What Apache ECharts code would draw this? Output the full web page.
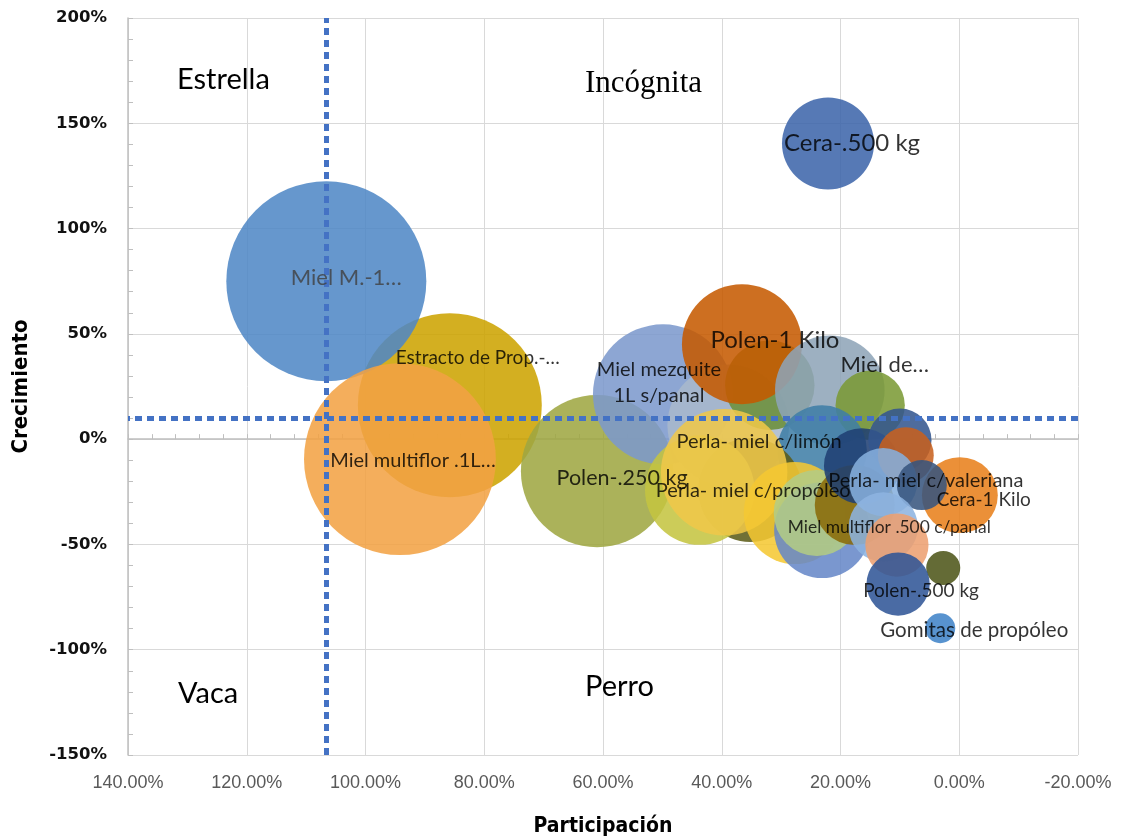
<!DOCTYPE html>
<html><head><meta charset="utf-8">
<script src="https://cdn.jsdelivr.net/npm/echarts@6/dist/echarts.min.js"></script>
<style>html,body{margin:0;padding:0;background:#fff}#c{width:1125px;height:839px}</style>
</head><body><div id="c"></div>
<script>
// ---- data (drawing order: first = bottom) ----
const etiquetas = ['Estracto de Prop.-…','Miel M.-1…','Miel multiflor .1L…','Polen-.250 kg','Miel mezquite\n1L s/panal','','','Polen-1 Kilo','Miel de…','','','Perla- miel c/propóleo','','Perla- miel c/limón','','','','','','','','Cera-1 Kilo','','Perla- miel c/valeriana','Miel multiflor .500 c/panal','','','Polen-.500 kg','Gomitas de propóleo','Cera-.500 kg'];
const participacion = [85.8,106.6,94.2,61.0,49.9,38.9,31.9,36.6,21.8,15.0,23.1,35.2,43.7,39.6,27.7,23.1,24.0,17.6,16.4,10.0,9.0,-0.1,12.8,6.3,12.8,10.5,2.7,10.3,3.2,22.1];
const crecimiento   = [16.1,75.0,-9.5,-15.2,21.3,6.6,25.6,45.1,23.2,16.1,-5.2,-24.2,-24.2,-15.7,-35.1,-43.2,-35.1,-31.3,-12.8,-0.5,-7.6,-26.6,-20.4,-21.8,-41.7,-50.3,-61.2,-68.8,-89.8,140.4];
const ventas        = [84.6,100,92,58,49,37,20,36,30,12,20,27,30,40,26,23,18.5,16,14.4,10,7.8,14.4,11.6,6.25,12,10,2.9,10,2.25,21.2];
const promedioParticipacion = 106.6;
const promedioCrecimiento = 10;
const xTickMin = -20, xTickMax = 140, xTickStep = 20;
const yTickMin = -150, yTickMax = 200, yTickStep = 50;
const cuadrantes = ['Estrella','Incógnita','Vaca','Perro'];

// ---- styles ----
const colores = ['#cca300','#4f88c6','#f2a244','#9fa642','#7c99cd','#a9b9cc','#6b8e3a','#c55a00','#8ea4b8','#7b9a35','#3f7ea6','#5c5c18','#c4c440','#f0c84a','#f5c832','#6688c8','#b3cc85','#8a6a08','#1f3f73','#34568f','#c8601e','#e8801a','#86b0de','#37557e','#8db3e0','#eda070','#4d5518','#2f5597','#3f83c8','#3d65aa'];
const labelOffset = {0:[28,-47],1:[20,-3],2:[13,1],3:[25,7],4:[-4,-12],7:[33,-4],8:[55,-25],11:[3,0],13:[35,-31],21:[24,5],23:[4,-5],24:[6,0],27:[23,7],28:[34,2],29:[24,0]};
const labelSize = {0:19,1:22,2:20,3:21.5,4:20,7:24,8:22,11:20,13:20,21:19,23:20,24:17.4,27:19,28:20.5,29:24};
const labelFont = 'Lato, "Noto Sans", sans-serif';

const bubbleData = participacion.map((x,i)=>({value:[x,crecimiento[i],ventas[i]], itemStyle:{color:colores[i]}}));
const labelData = participacion.map((x,i)=>({
  value:[x,crecimiento[i],ventas[i]],
  label:{show: !!etiquetas[i], formatter: etiquetas[i], offset: labelOffset[i]||[0,0], fontSize: labelSize[i]||18,
         color: i===1 ? '#404040' : '#000', lineHeight: 26}
}));

const chart = echarts.init(document.getElementById('c'), null, {renderer:'canvas'});
const axisGray = '#bfbfbf';
chart.setOption({
  animation:false,
  grid:{left:128,right:47,top:18,bottom:84,containLabel:false,outerBoundsMode:'none'},
  xAxis:[
    {type:'value',min:xTickMin,max:xTickMax,interval:xTickStep,inverse:true,position:'bottom',
     axisLine:{show:false,onZero:false},axisTick:{show:false},
     axisLabel:{formatter:v=>v.toFixed(2)+'%',color:'#595959',fontSize:18,fontFamily:'"Liberation Sans",Arial,sans-serif',margin:19},
     splitLine:{show:true,lineStyle:{color:'#d9d9d9',width:1}},
     name:'Participación',nameLocation:'middle',nameGap:61,
     nameTextStyle:{fontWeight:'bold',fontSize:21,color:'#000',fontFamily:'"Liberation Sans Narrow","DejaVu Sans Condensed",sans-serif'}},
    {type:'value',min:xTickMin,max:xTickMax,interval:xTickStep,inverse:true,position:'bottom',
     axisLine:{show:true,onZero:true,lineStyle:{color:axisGray,width:1.5}},
     axisTick:{show:true,inside:true,length:5,lineStyle:{color:axisGray}},
     minorTick:{show:true,splitNumber:5,length:5,lineStyle:{color:axisGray}},
     axisLabel:{show:false},splitLine:{show:false}}
  ],
  yAxis:{type:'value',min:yTickMin,max:yTickMax,interval:yTickStep,
     axisLine:{show:true,onZero:false,lineStyle:{color:axisGray,width:1.5}},
     axisTick:{show:true,inside:true,length:5,lineStyle:{color:axisGray}},
     minorTick:{show:true,splitNumber:5,length:5,lineStyle:{color:axisGray}},
     axisLabel:{formatter:'{value}%',color:'#111',fontSize:16.5,fontWeight:'bold',fontFamily:'"DejaVu Sans",sans-serif',margin:21},
     splitLine:{show:true,lineStyle:{color:'#d9d9d9',width:1}},
     name:'Crecimiento',nameLocation:'middle',nameGap:96,
     nameTextStyle:{fontWeight:'bold',fontSize:22,color:'#000',fontFamily:'"Liberation Sans Narrow","DejaVu Sans Condensed",sans-serif'}},
  series:[
    {type:'scatter',xAxisIndex:0,data:bubbleData,symbolSize:d=>20*Math.sqrt(d[2]),
     itemStyle:{opacity:0.87},emphasis:{disabled:true},silent:true,z:2,
     markLine:{silent:true,symbol:'none',animation:false,label:{show:false},
       lineStyle:{color:'#4472c4',width:5,type:[7,5],cap:'butt'},
       data:[{xAxis:promedioParticipacion},{yAxis:promedioCrecimiento}]}},
    {type:'scatter',xAxisIndex:0,data:labelData,symbolSize:1,itemStyle:{color:'transparent'},
     silent:true,z:10,label:{show:true,position:'inside',fontFamily:labelFont,color:'#000'},emphasis:{disabled:true}}
  ],
  graphic:[
    {type:'text',x:177,y:80,z:20,style:{text:cuadrantes[0],fontSize:29,fontFamily:labelFont,fill:'#000',verticalAlign:'middle'}},
    {type:'text',x:585,y:84,z:20,style:{text:cuadrantes[1],fontSize:31,fontFamily:'"Liberation Serif",serif',fill:'#000',verticalAlign:'middle'}},
    {type:'text',x:178,y:694,z:20,style:{text:cuadrantes[2],fontSize:29,fontFamily:labelFont,fill:'#000',verticalAlign:'middle'}},
    {type:'text',x:585,y:687,z:20,style:{text:cuadrantes[3],fontSize:29,fontFamily:labelFont,fill:'#000',verticalAlign:'middle'}}
  ]
});
</script></body></html>
